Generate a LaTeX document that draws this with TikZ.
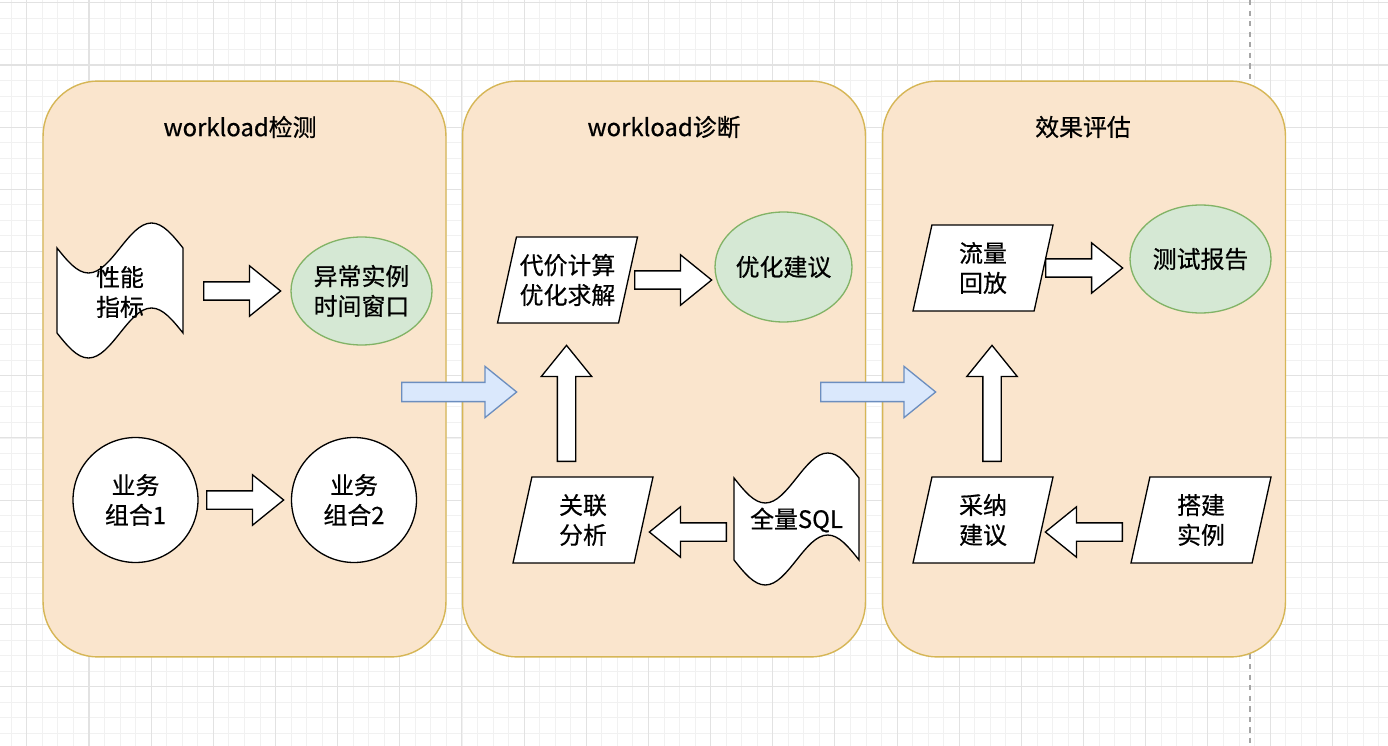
\documentclass[tikz,border=0pt]{standalone}
\usepackage{fontspec}
\setmainfont{Noto Sans CJK SC}[FakeBold=0.6]
\usepackage{tikz}
\usetikzlibrary{shapes.geometric, shapes.arrows}
\definecolor{panelfill}{HTML}{FAE5CD}
\definecolor{panelline}{HTML}{D6B656}
\definecolor{greenfill}{HTML}{D5E8D4}
\definecolor{greenline}{HTML}{82B366}
\definecolor{bluefill}{HTML}{DAE8FC}
\definecolor{blueline}{HTML}{6C8EBF}
\definecolor{minorgrid}{HTML}{F1F1F1}
\definecolor{majorgrid}{HTML}{E2E2E2}
\newcommand{\txt}{\fontsize{13.6}{17}\selectfont}
% wavy tape outline round a coordinate: #1 centre, #2 half width, #3 half height
\newcommand{\wavebox}[3]{%
  \draw[line width=0.75pt, fill=white] ([shift={(-#2,-#3)}]#1)
    sin ++({#2/2},25) cos ++({#2/2},-25) sin ++({#2/2},-25) cos ++({#2/2},25)
    -- ++(0,{2*#3})
    sin ++({-#2/2},-25) cos ++({-#2/2},25) sin ++({-#2/2},25) cos ++({-#2/2},-25)
    -- cycle;}

\tikzset{
  panel/.style={draw=panelline, fill=panelfill, line width=0.8pt, rounded corners=1.1cm,
    minimum width=8.06cm, minimum height=11.52cm},
  title/.style={font=\txt},
  blk/.style={single arrow, draw=black, fill=white, line width=0.75pt, inner sep=0.17cm,
    minimum width=0.98cm, minimum height=1.54cm, single arrow head extend=0.32cm,
    single arrow tip angle=78, anchor=tail},
  flowarr/.style={blk, draw=blueline, fill=bluefill, inner sep=0.18cm, minimum height=2.3cm},
  para/.style={trapezium, trapezium left angle=70, trapezium right angle=110,
    trapezium stretches body, draw, fill=white, line width=0.75pt, inner sep=0pt,
    minimum width=2.8cm, minimum height=1.72cm, align=center, font=\txt},
  wavetext/.style={inner sep=0pt, align=center, font=\txt},
  bizcircle/.style={circle, draw, fill=white, line width=0.75pt, minimum size=2.5cm,
    inner sep=0pt, align=center, font=\txt},
  result/.style={ellipse, draw=greenline, fill=greenfill, line width=0.75pt, inner sep=0pt,
    minimum width=2.82cm, minimum height=2.16cm, align=center, font=\txt}
}

\begin{document}
\begin{tikzpicture}[x=0.02cm, y=-0.02cm]
\useasboundingbox (0,0) rectangle (1388,746);
\fill[white] (0,0) rectangle (1388,746);
\foreach \i in {0,...,89} \draw[minorgrid, line width=0.5pt] ({11.3+\i*15.54},0) -- ({11.3+\i*15.54},746);
\foreach \i in {0,...,47} \draw[minorgrid, line width=0.5pt] (0,{2.84+\i*15.54}) -- (1388,{2.84+\i*15.54});
\foreach \i in {0,...,22} \draw[majorgrid, line width=0.6pt] ({26.84+\i*62.16},0) -- ({26.84+\i*62.16},746);
\foreach \i in {0,...,11} \draw[majorgrid, line width=0.6pt] (0,{2.84+\i*62.16}) -- (1388,{2.84+\i*62.16});
\draw[gray!70, dashed, line width=0.6pt] (1250,0) -- (1250,746);

\node[panel] (pan1) at (244.5,369) {};
\node[panel] (pan2) at (664,369) {};
\node[panel] (pan3) at (1084,369) {};
\node[title] (t1) at (240,127) {workload检测};
\node[title] (t2) at (664,127) {workload诊断};
\node[title] (t3) at (1083,127) {效果评估};

\coordinate (perfc) at (120,290.5);
\wavebox{perfc}{63}{42.5}
\node[wavetext] (perf) at (120,292) {性能\\指标};
\node[blk] (a1) at (203,291) {};
\node[result] (win) at (361.5,291) {异常实例\\时间窗口};
\node[bizcircle] (biz1) at (135.5,500) {业务\\组合1};
\node[blk] (a2) at (206,500) {};
\node[bizcircle] (biz2) at (354,500) {业务\\组合2};

\node[flowarr] (flow1) at (401,392) {};
\node[flowarr] (flow2) at (820,392) {};

\node[para] (cost) at (567.5,280) {代价计算\\优化求解};
\node[blk] (a3) at (634,280) {};
\node[result, minimum width=2.74cm, minimum height=2.2cm] (advice) at (783.5,267) {优化建议};
\node[blk, shape border rotate=90, minimum height=2.32cm] (up1) at (566.5,462) {};
\node[para] (corr) at (583,520) {关联\\分析};
\node[blk, shape border rotate=180] (a4) at (727,532) {};
\coordinate (sqlc) at (796.5,519);
\wavebox{sqlc}{62.5}{41}
\node[wavetext] (sql) at (796.5,520) {全量SQL};

\node[para] (replay) at (983,268) {流量\\回放};
\node[blk] (a5) at (1045,268) {};
\node[result] (report) at (1200.5,259) {测试报告};
\node[blk, shape border rotate=90, minimum height=2.32cm] (up2) at (992,462) {};
\node[para] (adopt) at (983,520) {采纳\\建议};
\node[blk, shape border rotate=180] (a6) at (1123,532) {};
\node[para] (build) at (1201,520) {搭建\\实例};
\end{tikzpicture}
\end{document}
